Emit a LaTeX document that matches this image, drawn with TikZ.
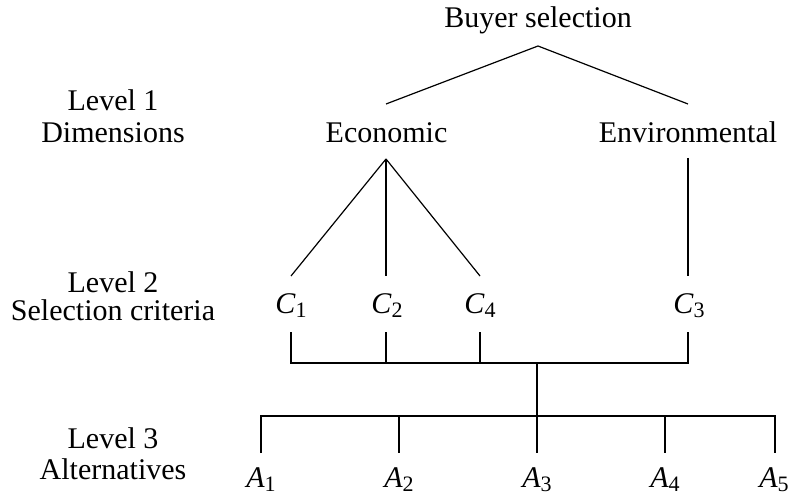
\documentclass[tikz,border=0pt]{standalone}
\usepackage{fontspec}
\setmainfont{Liberation Serif}
\newcommand\mysubs[1]{\raisebox{-2.3pt}{\fontsize{11}{12}\selectfont #1}}
\newcommand\myvar[2]{\textit{#1}\mysubs{#2}}
\begin{document}
\begin{tikzpicture}[x=0.5pt,y=-0.5pt,
  lbl/.style={font=\fontsize{15}{17}\selectfont, inner sep=0pt, anchor=base},
  ln/.style={line width=0.6pt, line cap=butt}]
\useasboundingbox (0,0) rectangle (790,497);

% level labels
\node[lbl] (l1a) at (113,111) {Level 1};
\node[lbl] (l1b) at (113,143) {Dimensions};
\node[lbl] (l2a) at (113,292) {Level 2};
\node[lbl] (l2b) at (113,320) {Selection criteria};
\node[lbl] (l3a) at (113,448) {Level 3};
\node[lbl] (l3b) at (113,479) {Alternatives};

% hierarchy nodes
\node[lbl] (goal) at (538,28) {Buyer selection};
\node[lbl] (eco) at (386.5,142) {Economic};
\node[lbl] (env) at (688,142) {Environmental};

\node[lbl] (c1) at (291,313) {\myvar{C}{1}};
\node[lbl] (c2) at (387,313) {\myvar{C}{2}};
\node[lbl] (c4) at (480,313) {\myvar{C}{4}};
\node[lbl] (c3) at (689,313) {\myvar{C}{3}};

\node[lbl] (a1) at (261,487) {\myvar{A}{1}};
\node[lbl] (a2) at (399,487) {\myvar{A}{2}};
\node[lbl] (a3) at (537,487) {\myvar{A}{3}};
\node[lbl] (a4) at (665,487) {\myvar{A}{4}};
\node[lbl] (a5) at (774,487) {\myvar{A}{5}};

% connector end points
\coordinate (goalB) at (538,46);
\coordinate (ecoT) at (386,104);
\coordinate (envT) at (688,104);
\coordinate (ecoB) at (386,159);
\coordinate (envB) at (688,158);
\coordinate (c1T) at (291,276);
\coordinate (c2T) at (386,276);
\coordinate (c4T) at (480,276);
\coordinate (c3T) at (688,276);
\coordinate (c1B) at (291,332);
\coordinate (c2B) at (386,332);
\coordinate (c4B) at (480,332);
\coordinate (c3B) at (688,332);
\coordinate (c1J) at (291,363);
\coordinate (c2J) at (386,363);
\coordinate (c4J) at (480,363);
\coordinate (c3J) at (688,363);
\coordinate (stemT) at (537,363);
\coordinate (stemB) at (537,416);
\coordinate (a1J) at (261,416);
\coordinate (a2J) at (399,416);
\coordinate (a4J) at (665,416);
\coordinate (a5J) at (775,416);
\coordinate (a1T) at (261,453);
\coordinate (a2T) at (399,453);
\coordinate (a3T) at (537,453);
\coordinate (a4T) at (665,453);
\coordinate (a5T) at (775,453);

% connectors
\draw[ln] (ecoT) -- (goalB) -- (envT);
\draw[ln] (ecoB) -- (c1T);
\draw[ln] (ecoB) -- (c2T);
\draw[ln] (ecoB) -- (c4T);
\draw[ln] (envB) -- (c3T);
\draw[ln] (c1B) -- (c1J) -- (c3J) -- (c3B);
\draw[ln] (c2B) -- (c2J);
\draw[ln] (c4B) -- (c4J);
\draw[ln] (stemT) -- (stemB);
\draw[ln] (a1T) -- (a1J) -- (a5J) -- (a5T);
\draw[ln] (a2J) -- (a2T);
\draw[ln] (stemB) -- (a3T);
\draw[ln] (a4J) -- (a4T);
\end{tikzpicture}
\end{document}
